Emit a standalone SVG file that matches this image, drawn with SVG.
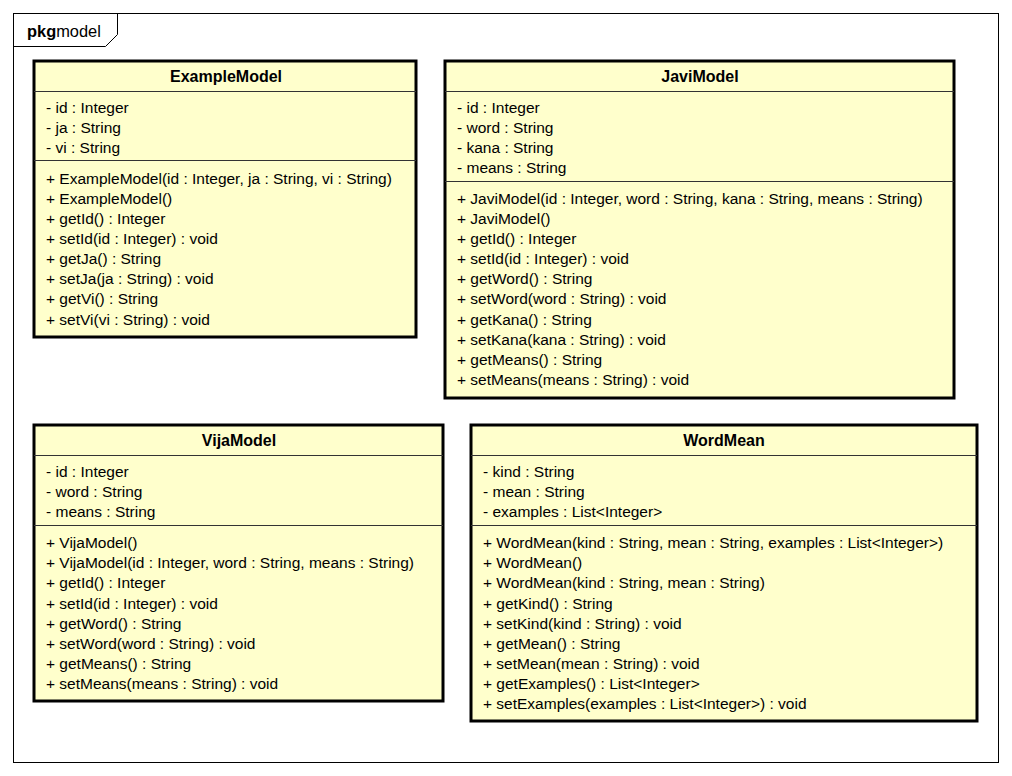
<svg xmlns="http://www.w3.org/2000/svg" width="1012" height="776" viewBox="0 0 1012 776">
<style>
.frame{fill:#fff;stroke:#000;stroke-width:1}
.box{fill:#FFFFCC;stroke:#000;stroke-width:3}
.sep{stroke:#333;stroke-width:1}
.t{font-family:"Liberation Sans",Arial,sans-serif;font-size:15.5px;fill:#000}
.h{font-family:"Liberation Sans",Arial,sans-serif;font-size:16px;font-weight:bold;fill:#000;text-anchor:middle}
.p{font-family:"Liberation Sans",Arial,sans-serif;font-size:16.4px;fill:#000}
</style>
<rect width="1012" height="776" fill="#fff"/>
<g id="pkg">
<rect class="frame" x="13.5" y="13.5" width="985" height="749"/>
<path d="M13.5 46.5 H105.5 L117.5 34.5 V13.5" fill="none" stroke="#000"/>
<text x="27" y="37" class="p"><tspan font-weight="bold">pkg</tspan>model</text>
</g>
<g id="connectors"></g>
<g id="ExampleModel">
<rect class="box" x="34" y="61" width="382" height="276"/>
<line class="sep" x1="34" y1="91.5" x2="416" y2="91.5"/>
<line class="sep" x1="34" y1="160.5" x2="416" y2="160.5"/>
<text class="h" x="226" y="82">ExampleModel</text>
<text class="t" x="46" y="113">- id : Integer</text>
<text class="t" x="46" y="133">- ja : String</text>
<text class="t" x="46" y="153">- vi : String</text>
<text class="t" x="46" y="184">+ ExampleModel(id : Integer, ja : String, vi : String)</text>
<text class="t" x="46" y="204">+ ExampleModel()</text>
<text class="t" x="46" y="224">+ getId() : Integer</text>
<text class="t" x="46" y="244">+ setId(id : Integer) : void</text>
<text class="t" x="46" y="264">+ getJa() : String</text>
<text class="t" x="46" y="284">+ setJa(ja : String) : void</text>
<text class="t" x="46" y="304">+ getVi() : String</text>
<text class="t" x="46" y="325">+ setVi(vi : String) : void</text>
</g>
<g id="JaviModel">
<rect class="box" x="445" y="61" width="509" height="337"/>
<line class="sep" x1="445" y1="91.5" x2="954" y2="91.5"/>
<line class="sep" x1="445" y1="181.5" x2="954" y2="181.5"/>
<text class="h" x="700" y="82">JaviModel</text>
<text class="t" x="457" y="113">- id : Integer</text>
<text class="t" x="457" y="133">- word : String</text>
<text class="t" x="457" y="153">- kana : String</text>
<text class="t" x="457" y="173">- means : String</text>
<text class="t" x="457" y="204">+ JaviModel(id : Integer, word : String, kana : String, means : String)</text>
<text class="t" x="457" y="224">+ JaviModel()</text>
<text class="t" x="457" y="244">+ getId() : Integer</text>
<text class="t" x="457" y="264">+ setId(id : Integer) : void</text>
<text class="t" x="457" y="284">+ getWord() : String</text>
<text class="t" x="457" y="304">+ setWord(word : String) : void</text>
<text class="t" x="457" y="325">+ getKana() : String</text>
<text class="t" x="457" y="345">+ setKana(kana : String) : void</text>
<text class="t" x="457" y="365">+ getMeans() : String</text>
<text class="t" x="457" y="385">+ setMeans(means : String) : void</text>
</g>
<g id="VijaModel">
<rect class="box" x="34" y="425" width="409" height="276"/>
<line class="sep" x1="34" y1="455.5" x2="443" y2="455.5"/>
<line class="sep" x1="34" y1="525.5" x2="443" y2="525.5"/>
<text class="h" x="239" y="446">VijaModel</text>
<text class="t" x="46" y="477">- id : Integer</text>
<text class="t" x="46" y="497">- word : String</text>
<text class="t" x="46" y="517">- means : String</text>
<text class="t" x="46" y="548">+ VijaModel()</text>
<text class="t" x="46" y="568">+ VijaModel(id : Integer, word : String, means : String)</text>
<text class="t" x="46" y="588">+ getId() : Integer</text>
<text class="t" x="46" y="609">+ setId(id : Integer) : void</text>
<text class="t" x="46" y="629">+ getWord() : String</text>
<text class="t" x="46" y="649">+ setWord(word : String) : void</text>
<text class="t" x="46" y="669">+ getMeans() : String</text>
<text class="t" x="46" y="689">+ setMeans(means : String) : void</text>
</g>
<g id="WordMean">
<rect class="box" x="471" y="425" width="506" height="296"/>
<line class="sep" x1="471" y1="455.5" x2="977" y2="455.5"/>
<line class="sep" x1="471" y1="525.5" x2="977" y2="525.5"/>
<text class="h" x="724" y="446">WordMean</text>
<text class="t" x="483" y="477">- kind : String</text>
<text class="t" x="483" y="497">- mean : String</text>
<text class="t" x="483" y="517">- examples : List&lt;Integer&gt;</text>
<text class="t" x="483" y="548">+ WordMean(kind : String, mean : String, examples : List&lt;Integer&gt;)</text>
<text class="t" x="483" y="568">+ WordMean()</text>
<text class="t" x="483" y="588">+ WordMean(kind : String, mean : String)</text>
<text class="t" x="483" y="609">+ getKind() : String</text>
<text class="t" x="483" y="629">+ setKind(kind : String) : void</text>
<text class="t" x="483" y="649">+ getMean() : String</text>
<text class="t" x="483" y="669">+ setMean(mean : String) : void</text>
<text class="t" x="483" y="689">+ getExamples() : List&lt;Integer&gt;</text>
<text class="t" x="483" y="709">+ setExamples(examples : List&lt;Integer&gt;) : void</text>
</g>
</svg>
